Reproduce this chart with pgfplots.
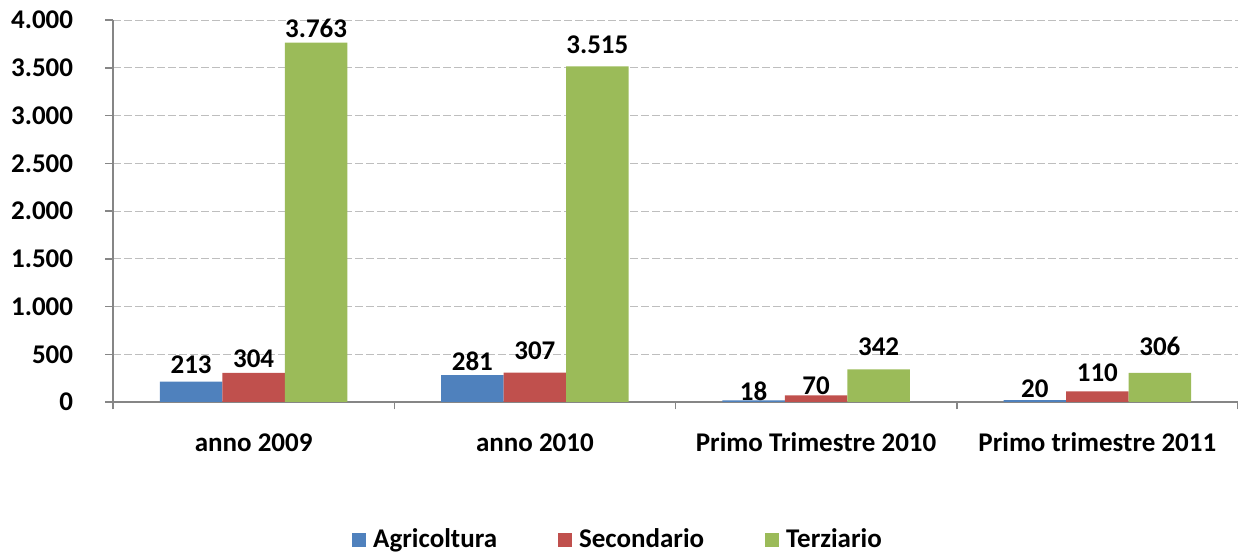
\documentclass[border=0pt]{standalone}
\usepackage{pgfplots}
\pgfplotsset{compat=1.18}
\usepackage{pgfplotstable}
\usepackage{fontspec}
\setmainfont{Carlito}
\definecolor{cblue}{HTML}{4F81BD}
\definecolor{cred}{HTML}{C0504D}
\definecolor{cgreen}{HTML}{9BBB59}
\definecolor{axgray}{HTML}{868686}
\definecolor{gridgray}{HTML}{BEBEBE}
\newcommand{\lbl}{\fontsize{13.5bp}{16bp}\selectfont\bfseries}
\pgfplotsset{sqlegend/.style={legend image code/.code={\fill[##1] (0bp,-3.5bp) rectangle (7bp,3.5bp);}}}

% x = group, y = value, dy = lift of the value label above the bar (px)
\pgfplotstableread{
x y dy
0 213 16.7
1 281 13.7
2 18 8.8
3 20 11.1
}\agri
\pgfplotstableread{
x y dy
0 304 14.0
1 307 21.7
2 70 9.3
3 110 18.8
}\secondario
\pgfplotstableread{
x y dy
0 3763 14.6
1 3515 21.3
2 342 22.8
3 306 26.3
}\terziario

\begin{document}
\begin{tikzpicture}
\useasboundingbox (0,0) rectangle (619bp,276.5bp);
\begin{axis}[
  at={(56.5bp,75.5bp)}, anchor=south west,
  scale only axis, width=562.5bp, height=191bp,
  ybar=0pt, bar width=31.25bp,
  xmin=-0.5, xmax=3.5, ymin=0, ymax=4000,
  xtick={-0.5,0.5,1.5,2.5,3.5}, xticklabels={},
  extra x ticks={0,1,2,3},
  extra x tick labels={anno 2009,anno 2010,Primo Trimestre 2010,Primo trimestre 2011},
  extra x tick style={grid=none, major tick length=0pt,
    xticklabel style={anchor=base, inner sep=0pt, yshift=-24.85bp}},
  ytick={0,500,...,4000},
  scaled y ticks=false,
  axis x line*=bottom, axis y line*=left,
  axis line style={axgray, line width=0.75bp, -},
  tick align=outside, major tick length=3.75bp,
  tick style={axgray, line width=0.75bp},
  ymajorgrids,
  major grid style={gridgray, dash pattern=on 4bp off 1.5bp, line width=0.5bp},
  tick label style={font=\lbl},
  yticklabel={\pgfmathprintnumber{\tick}\hspace*{16bp}},
  yticklabel style={anchor=east, inner sep=0pt},
  /pgf/number format/1000 sep={.},
  /pgf/number format/assume math mode=true,
  nodes near coords,
  visualization depends on={\thisrow{dy} \as \dy},
  every node near coord/.append style={font=\lbl, anchor=center, inner sep=0pt, yshift=\dy*0.5bp},
  legend columns=-1,
  legend style={draw=none, fill=none, font=\lbl, at={(axis description cs:0.4498,-0.3613)}, anchor=center,
    /tikz/every odd column/.append style={column sep=1.5bp},
    /tikz/every even column/.append style={column sep=28.5bp}},
]
\addplot[fill=cblue, draw=none, sqlegend] table[x=x, y=y] {\agri};
\addlegendentry{Agricoltura}
\addplot[fill=cred, draw=none, sqlegend] table[x=x, y=y] {\secondario};
\addlegendentry{Secondario}
\addplot[fill=cgreen, draw=none, sqlegend] table[x=x, y=y] {\terziario};
\addlegendentry{Terziario}
\end{axis}
\end{tikzpicture}
\end{document}
